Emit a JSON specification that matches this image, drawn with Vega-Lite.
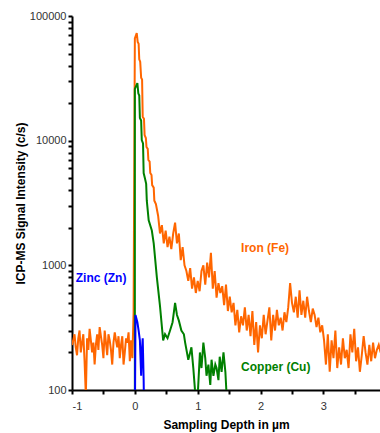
{
"$schema": "https://vega.github.io/schema/vega-lite/v6.json",
"autosize": {"type": "none"},
"width": 308, "height": 374,
"padding": {"left": 72, "top": 16, "right": 0, "bottom": 43},
"background": "white",
"config": {"view": {"stroke": null}, "font": "Liberation Sans"},
"datasets": {
"fe": [
{"x":-1.00,"y":230},{"x":-0.98,"y":250},{"x":-0.96,"y":280},{"x":-0.94,"y":220},{"x":-0.92,"y":190},{"x":-0.90,"y":260},{"x":-0.88,"y":300},{"x":-0.86,"y":200},{"x":-0.84,"y":240},{"x":-0.82,"y":280},{"x":-0.80,"y":170},{"x":-0.78,"y":90},{"x":-0.76,"y":260},{"x":-0.74,"y":210},{"x":-0.72,"y":310},{"x":-0.70,"y":250},{"x":-0.68,"y":200},{"x":-0.66,"y":240},{"x":-0.64,"y":160},{"x":-0.62,"y":230},{"x":-0.60,"y":280},{"x":-0.58,"y":210},{"x":-0.56,"y":320},{"x":-0.54,"y":270},{"x":-0.52,"y":230},{"x":-0.50,"y":180},{"x":-0.48,"y":300},{"x":-0.46,"y":240},{"x":-0.44,"y":190},{"x":-0.42,"y":280},{"x":-0.40,"y":250},{"x":-0.38,"y":210},{"x":-0.36,"y":160},{"x":-0.34,"y":240},{"x":-0.32,"y":290},{"x":-0.30,"y":250},{"x":-0.28,"y":220},{"x":-0.26,"y":270},{"x":-0.24,"y":180},{"x":-0.22,"y":230},{"x":-0.20,"y":270},{"x":-0.18,"y":160},{"x":-0.16,"y":200},{"x":-0.14,"y":260},{"x":-0.12,"y":240},{"x":-0.10,"y":290},{"x":-0.08,"y":170},{"x":-0.06,"y":250},{"x":-0.04,"y":180},{"x":-0.02,"y":420},
{"x":0.00,"y":66000},{"x":0.03,"y":73000},{"x":0.045,"y":62000},{"x":0.06,"y":60000},{"x":0.07,"y":45000},{"x":0.085,"y":43000},{"x":0.10,"y":32000},{"x":0.115,"y":31000},{"x":0.125,"y":15500},{"x":0.145,"y":15000},{"x":0.155,"y":11100},{"x":0.175,"y":10500},{"x":0.185,"y":8900},{"x":0.205,"y":8600},{"x":0.215,"y":7000},{"x":0.235,"y":6800},{"x":0.245,"y":5500},{"x":0.265,"y":5300},{"x":0.275,"y":4400},{"x":0.30,"y":4200},{"x":0.31,"y":3300},{"x":0.335,"y":3100},{"x":0.37,"y":2500},{"x":0.40,"y":1800},{"x":0.43,"y":2100},{"x":0.46,"y":1500},{"x":0.49,"y":1900},{"x":0.52,"y":1400},{"x":0.55,"y":1700},{"x":0.58,"y":1350},{"x":0.61,"y":1800},{"x":0.64,"y":2200},{"x":0.67,"y":1500},{"x":0.70,"y":1800},{"x":0.73,"y":1100},{"x":0.76,"y":1400},{"x":0.79,"y":1000},{"x":0.82,"y":900},{"x":0.85,"y":750},{"x":0.88,"y":950},{"x":0.91,"y":650},{"x":0.94,"y":800},{"x":0.97,"y":600},{"x":1.00,"y":750},{"x":1.03,"y":620},{"x":1.06,"y":900},{"x":1.09,"y":1000},{"x":1.12,"y":700},{"x":1.15,"y":1050},{"x":1.18,"y":800},{"x":1.21,"y":1260},{"x":1.24,"y":650},{"x":1.27,"y":900},{"x":1.30,"y":550},{"x":1.33,"y":720},{"x":1.36,"y":600},{"x":1.39,"y":680},{"x":1.42,"y":480},{"x":1.45,"y":700},{"x":1.48,"y":430},{"x":1.51,"y":560},{"x":1.54,"y":420},{"x":1.57,"y":500},{"x":1.60,"y":330},{"x":1.63,"y":440},{"x":1.66,"y":290},{"x":1.69,"y":390},{"x":1.72,"y":330},{"x":1.75,"y":460},{"x":1.78,"y":300},{"x":1.81,"y":400},{"x":1.84,"y":270},{"x":1.87,"y":430},{"x":1.90,"y":230},{"x":1.93,"y":350},{"x":1.96,"y":200},{"x":1.99,"y":330},{"x":2.02,"y":260},{"x":2.05,"y":400},{"x":2.08,"y":280},{"x":2.11,"y":360},{"x":2.14,"y":460},{"x":2.17,"y":250},{"x":2.20,"y":400},{"x":2.23,"y":300},{"x":2.26,"y":440},{"x":2.29,"y":330},{"x":2.32,"y":380},{"x":2.35,"y":300},{"x":2.38,"y":420},{"x":2.41,"y":350},{"x":2.44,"y":460},{"x":2.47,"y":720},{"x":2.50,"y":500},{"x":2.53,"y":420},{"x":2.56,"y":560},{"x":2.59,"y":380},{"x":2.62,"y":630},{"x":2.65,"y":400},{"x":2.68,"y":520},{"x":2.71,"y":380},{"x":2.74,"y":560},{"x":2.77,"y":430},{"x":2.80,"y":350},{"x":2.83,"y":450},{"x":2.86,"y":400},{"x":2.89,"y":320},{"x":2.92,"y":380},{"x":2.95,"y":290},{"x":2.98,"y":330},{"x":3.01,"y":250},{"x":3.04,"y":160},{"x":3.07,"y":280},{"x":3.10,"y":140},{"x":3.13,"y":250},{"x":3.16,"y":180},{"x":3.19,"y":300},{"x":3.22,"y":150},{"x":3.25,"y":220},{"x":3.28,"y":160},{"x":3.31,"y":260},{"x":3.34,"y":180},{"x":3.37,"y":210},{"x":3.40,"y":150},{"x":3.43,"y":280},{"x":3.46,"y":200},{"x":3.49,"y":310},{"x":3.52,"y":170},{"x":3.55,"y":220},{"x":3.58,"y":140},{"x":3.61,"y":190},{"x":3.64,"y":270},{"x":3.67,"y":200},{"x":3.70,"y":160},{"x":3.73,"y":230},{"x":3.76,"y":170},{"x":3.79,"y":240},{"x":3.82,"y":180},{"x":3.85,"y":210},{"x":3.88,"y":230},{"x":3.91,"y":200}
],
"cu": [
{"x":0.00,"y":50},{"x":0.00,"y":26000},{"x":0.04,"y":29000},{"x":0.055,"y":24000},{"x":0.07,"y":23000},{"x":0.08,"y":15200},{"x":0.10,"y":14500},{"x":0.11,"y":10100},{"x":0.13,"y":9500},{"x":0.14,"y":5500},{"x":0.16,"y":5000},{"x":0.18,"y":4500},{"x":0.19,"y":3300},{"x":0.22,"y":2300},{"x":0.27,"y":1900},{"x":0.30,"y":1500},{"x":0.35,"y":800},{"x":0.40,"y":470},{"x":0.45,"y":250},{"x":0.48,"y":280},{"x":0.52,"y":260},{"x":0.56,"y":300},{"x":0.60,"y":350},{"x":0.64,"y":500},{"x":0.67,"y":400},{"x":0.70,"y":360},{"x":0.74,"y":300},{"x":0.78,"y":280},{"x":0.80,"y":240},{"x":0.85,"y":175},{"x":0.88,"y":200},{"x":0.90,"y":220},{"x":0.93,"y":150},{"x":0.96,"y":95},{"x":1.00,"y":90},{"x":1.035,"y":200},{"x":1.06,"y":150},{"x":1.09,"y":240},{"x":1.12,"y":180},{"x":1.14,"y":130},{"x":1.17,"y":160},{"x":1.20,"y":110},{"x":1.22,"y":175},{"x":1.25,"y":130},{"x":1.28,"y":160},{"x":1.30,"y":150},{"x":1.33,"y":120},{"x":1.35,"y":185},{"x":1.38,"y":140},{"x":1.41,"y":200},{"x":1.44,"y":140},{"x":1.46,"y":90},{"x":1.50,"y":50}
],
"zn": [
{"x":0.00,"y":50},{"x":0.01,"y":400},{"x":0.04,"y":350},{"x":0.06,"y":300},{"x":0.08,"y":250},{"x":0.10,"y":130},{"x":0.11,"y":200},{"x":0.125,"y":260},{"x":0.14,"y":120},{"x":0.15,"y":50}
],
"labels": [
{"x":1.69,"y":1377,"t":"Iron (Fe)","c":"#FF6600"},
{"x":1.69,"y":153,"t":"Copper (Cu)","c":"#008000"},
{"x":-0.94,"y":790,"t":"Zinc (Zn)","c":"#0000FF"}
]
},
"encoding": {
"x": {"field": "x", "type": "quantitative", "scale": {"domain": [-1, 3.9], "nice": false, "zero": false},
 "axis": {"title": "Sampling Depth in µm", "titleFontSize": 12, "titleFontWeight": "bold", "titleColor": "black", "titlePadding": 8,
  "values": [-1,-0.5,0,0.5,1,1.5,2,2.5,3,3.5], "labelExpr": "datum.value % 1 == 0 ? ('' + datum.value) : ''",
  "labelFontSize": 11, "labelColor": "#333", "labelPadding": 6, "grid": false,
  "domainColor": "black", "domainWidth": 2, "tickColor": "black", "tickWidth": 2, "tickSize": 4}},
"y": {"field": "y", "type": "quantitative", "scale": {"type": "log", "domain": [100, 100000], "nice": false},
 "axis": {"title": "ICP-MS Signal Intensity (c/s)", "titleFontSize": 12, "titleFontWeight": "bold", "titleColor": "black", "titlePadding": 2,
  "values": [100,200,300,400,500,600,700,800,900,1000,2000,3000,4000,5000,6000,7000,8000,9000,10000,20000,30000,40000,50000,60000,70000,80000,90000,100000],
  "labelExpr": "indexof([100,1000,10000,100000], datum.value) >= 0 ? ('' + datum.value) : ''",
  "labelFontSize": 11, "labelColor": "#333", "labelPadding": 2, "grid": false,
  "domainColor": "black", "domainWidth": 2, "tickColor": "black", "tickWidth": 2, "tickSize": 4}}
},
"layer": [
{"data": {"name": "fe"}, "mark": {"type": "line", "color": "#FF6600", "strokeWidth": 2, "clip": true}},
{"data": {"name": "cu"}, "mark": {"type": "line", "color": "#008000", "strokeWidth": 2, "clip": true}},
{"data": {"name": "zn"}, "mark": {"type": "line", "color": "#0000FF", "strokeWidth": 2, "clip": true}},
{"data": {"name": "labels"}, "mark": {"type": "text", "align": "left", "baseline": "middle", "fontSize": 12, "fontWeight": "bold"},
 "encoding": {"text": {"field": "t"}, "color": {"field": "c", "type": "nominal", "scale": null}}}
]
}
